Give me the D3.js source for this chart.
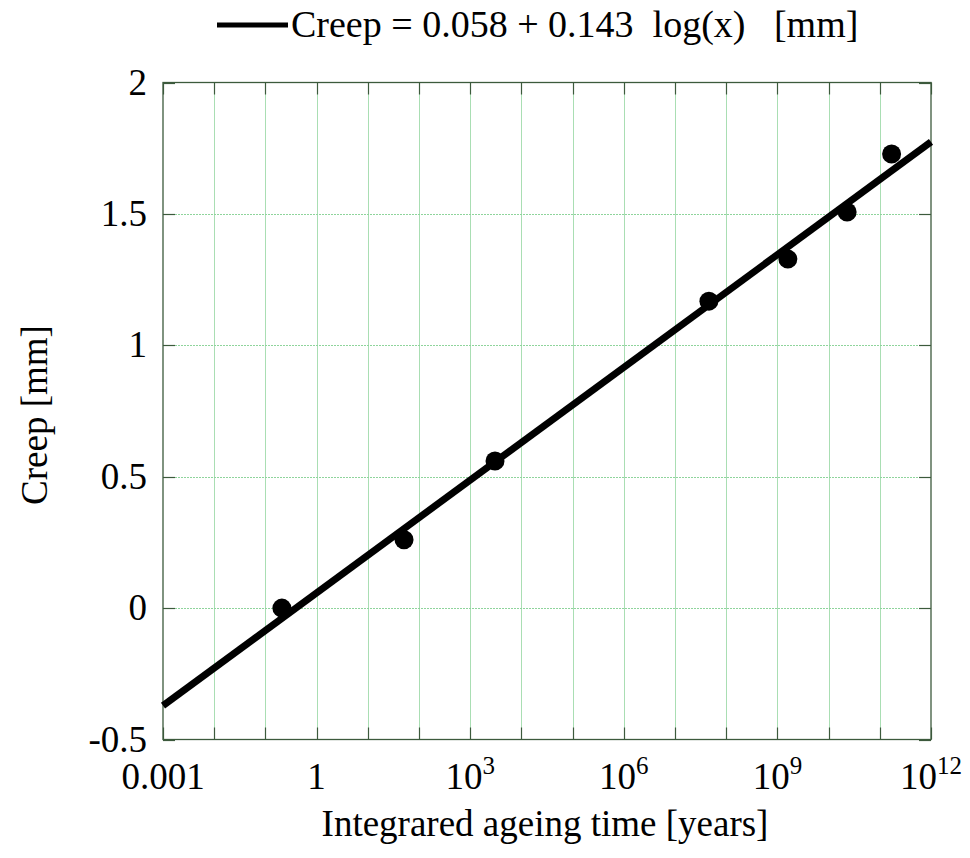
<!DOCTYPE html>
<html>
<head>
<meta charset="utf-8">
<script src="https://cdn.jsdelivr.net/npm/d3@7"></script>
<style>
  body { margin: 0; background: #fff; }
</style>
</head>
<body>
<svg id="chart" width="970" height="858"></svg>
<script>
// Measured points (ageing time in years, creep in mm)
var ageingTime = [0.21, 51, 3050, 4.6e7, 1.6e9, 2.3e10, 1.7e11];
var creepValues = [0.0, 0.26, 0.56, 1.168, 1.328, 1.507, 1.728];

// Fit: Creep = 0.058 + 0.143 log(x)
var fitIntercept = 0.058;
var fitSlope = 0.143;
var fitRange = [0.001, 1e12];

var xTicks = [1e-3, 1, 1e3, 1e6, 1e9, 1e12];
var xTickMain = ["0.001", "1", "10", "10", "10", "10"];
var xTickSup = ["", "", "3", "6", "9", "12"];
var yTicks = [-0.5, 0, 0.5, 1, 1.5, 2];
var yTickLabels = ["-0.5", "0", "0.5", "1", "1.5", "2"];

var serif = "'Liberation Serif', 'Times New Roman', Times, Tinos, 'DejaVu Serif', serif";

var svg = d3.select("#chart")
    .attr("font-family", serif);
var pLeft = 163, pRight = 931, pTop = 82.5, pBottom = 739.5;

var x = d3.scaleLog().domain([1e-3, 1e12]).range([pLeft, pRight]);
var y = d3.scaleLinear().domain([-0.5, 2]).range([pBottom, pTop]);

// decade grid lines
var decades = d3.range(-3, 13).map(function(e) { return Math.pow(10, e); });

var grid = svg.append("g");
grid.selectAll("line.vg")
    .data(decades.slice(1, -1))
    .enter().append("line")
    .attr("x1", function(d) { return Math.round(x(d)) + 0.5; })
    .attr("x2", function(d) { return Math.round(x(d)) + 0.5; })
    .attr("y1", pTop).attr("y2", pBottom)
    .style("stroke", "#a9deb3").style("stroke-width", 1);

grid.selectAll("line.hg")
    .data(yTicks.slice(1, -1))
    .enter().append("line")
    .attr("x1", pLeft).attr("x2", pRight)
    .attr("y1", function(d) { return Math.round(y(d)) + 0.5; })
    .attr("y2", function(d) { return Math.round(y(d)) + 0.5; })
    .style("stroke", "#8fd49c").style("stroke-width", 1)
    .style("stroke-dasharray", "2,1");

// ticks (inward, top and bottom / left and right)
var ticks = svg.append("g").style("stroke", "#3c5a3c").style("stroke-width", 1.2);
decades.forEach(function(d) {
    var xp = Math.round(x(d)) + 0.5;
    ticks.append("line").attr("x1", xp).attr("x2", xp).attr("y1", pBottom).attr("y2", pBottom - 12);
    ticks.append("line").attr("x1", xp).attr("x2", xp).attr("y1", pTop).attr("y2", pTop + 12);
});
yTicks.forEach(function(d) {
    var yp = Math.round(y(d)) + 0.5;
    ticks.append("line").attr("x1", pLeft).attr("x2", pLeft + 12).attr("y1", yp).attr("y2", yp);
    ticks.append("line").attr("x1", pRight).attr("x2", pRight - 12).attr("y1", yp).attr("y2", yp);
});

// frame
svg.append("rect")
    .attr("x", pLeft).attr("y", pTop)
    .attr("width", pRight - pLeft).attr("height", pBottom - pTop)
    .style("fill", "none").style("stroke", "#3c5a3c").style("stroke-width", 1.3);

// fit line
var fitLine = d3.line()
    .x(function(d) { return x(d); })
    .y(function(d) { return y(fitIntercept + fitSlope * Math.log10(d)); });

svg.append("path")
    .datum(fitRange)
    .attr("d", fitLine)
    .style("fill", "none").style("stroke", "#000").style("stroke-width", 7);

// data points
svg.selectAll("circle.pt")
    .data(d3.zip(ageingTime, creepValues))
    .enter().append("circle")
    .attr("cx", function(d) { return x(d[0]); })
    .attr("cy", function(d) { return y(d[1]); })
    .attr("r", 9.5)
    .style("fill", "#000");

// x tick labels
var xl = svg.append("g").selectAll("text")
    .data(xTicks)
    .enter().append("text")
    .attr("font-family", serif)
    .attr("x", function(d) { return x(d); })
    .attr("y", 789)
    .attr("font-size", 37)
    .attr("text-anchor", "middle");
xl.append("tspan").text(function(d, i) { return xTickMain[i]; });
xl.append("tspan")
    .attr("dy", -15)
    .attr("font-size", 25)
    .text(function(d, i) { return xTickSup[i]; });

// y tick labels
svg.append("g").selectAll("text")
    .data(yTicks)
    .enter().append("text")
    .attr("font-family", serif)
    .attr("x", 147)
    .attr("y", function(d) { return y(d) + 12; })
    .attr("font-size", 37)
    .attr("text-anchor", "end")
    .text(function(d, i) { return yTickLabels[i]; });

// axis titles
svg.append("text")
    .attr("font-family", serif)
    .attr("x", 545).attr("y", 836)
    .attr("font-size", 37)
    .attr("text-anchor", "middle")
    .text("Integrared ageing time [years]");

svg.append("text")
    .attr("font-family", serif)
    .attr("transform", "translate(47,415) rotate(-90)")
    .attr("font-size", 37)
    .attr("text-anchor", "middle")
    .text("Creep [mm]");

// legend
svg.append("line")
    .attr("x1", 217).attr("x2", 288)
    .attr("y1", 25).attr("y2", 25)
    .style("stroke", "#000").style("stroke-width", 5);
svg.append("text")
    .attr("font-family", serif)
    .attr("x", 291).attr("y", 37)
    .attr("font-size", 38)
    .attr("xml:space", "preserve")
    .style("white-space", "pre")
    .text("Creep = 0.058 + 0.143  log(x)   [mm]");
</script>
</body>
</html>
